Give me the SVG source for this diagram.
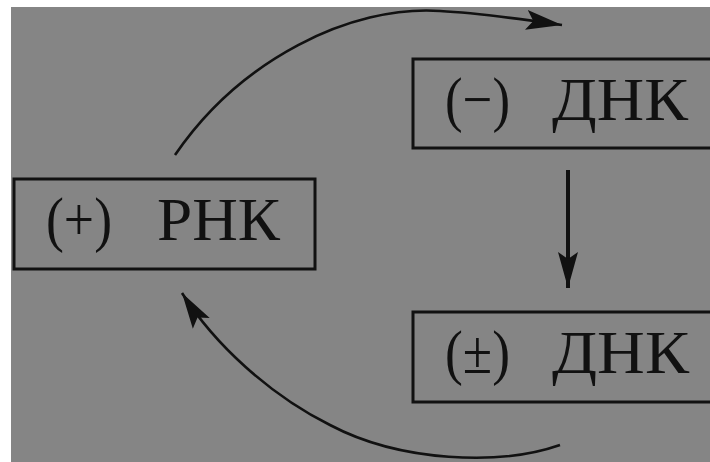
<svg xmlns="http://www.w3.org/2000/svg" width="710" height="462" viewBox="0 0 710 462">
  <style>
    .box { fill: none; stroke: #111; stroke-width: 3; }
    .lbl { font-family: "Liberation Serif", "DejaVu Serif", serif; font-size: 61px; fill: #111; }
    .conn { fill: none; stroke: #111; stroke-width: 2.6; }
  </style>
  <defs>
    <marker id="ah" markerUnits="userSpaceOnUse" markerWidth="40" markerHeight="26" viewBox="0 0 40 26" refX="36" refY="13" orient="auto">
      <path d="M0,3 L36,13 L0,23 L7,13 Z" fill="#111"/>
    </marker>
  </defs>
  <rect x="0" y="0" width="710" height="462" fill="#ffffff"/>
  <rect x="11" y="7" width="699" height="455" fill="#858585"/>

  <g id="node-rna-plus">
    <rect class="box" x="14" y="179" width="301" height="90"/>
    <text class="lbl" x="46" y="240" textLength="66" lengthAdjust="spacingAndGlyphs">(+)</text>
    <text class="lbl" x="157" y="240" textLength="123" lengthAdjust="spacingAndGlyphs">РНК</text>
  </g>
  <g id="node-dna-minus">
    <rect class="box" x="413" y="59" width="310" height="89"/>
    <text class="lbl" x="445" y="120" textLength="65" lengthAdjust="spacingAndGlyphs">(−)</text>
    <text class="lbl" x="552" y="120" textLength="136" lengthAdjust="spacingAndGlyphs">ДНК</text>
  </g>
  <g id="node-dna-pm">
    <rect class="box" x="413" y="312" width="310" height="90"/>
    <text class="lbl" x="445" y="373" textLength="65" lengthAdjust="spacingAndGlyphs">(±)</text>
    <text class="lbl" x="552" y="373" textLength="137" lengthAdjust="spacingAndGlyphs">ДНК</text>
  </g>

  <g id="connectors">
    <path class="conn" d="M175,155 C240,60 350,5 440,11 C480,13 520,19 562,25" marker-end="url(#ah)"/>
    <path class="conn" style="stroke-width:4" d="M568,170 L568,288" marker-end="url(#ah)"/>
    <path class="conn" d="M560,445 C500,466 400,462 330,425 C270,395 215,345 182,293" marker-end="url(#ah)"/>
  </g>
</svg>
